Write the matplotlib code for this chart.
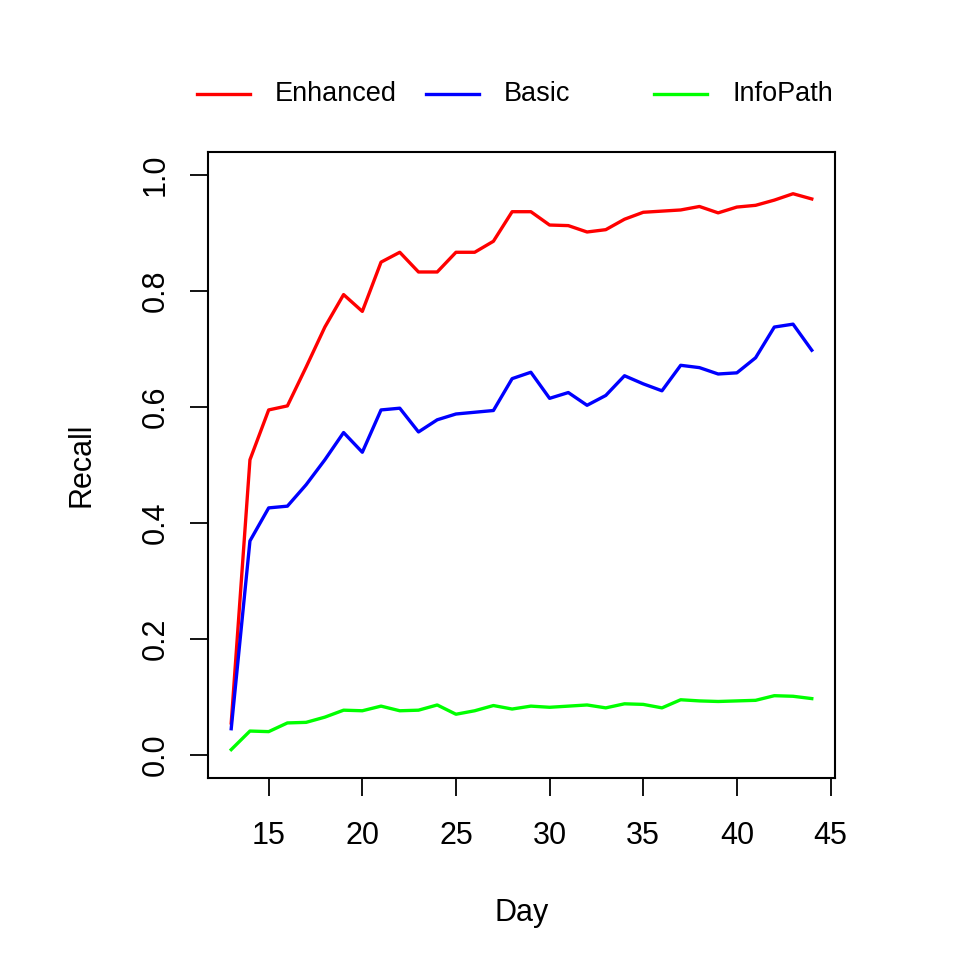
import matplotlib
matplotlib.use("Agg")
import matplotlib.pyplot as plt
from matplotlib.lines import Line2D

plt.rcParams['font.family'] = ['Liberation Sans', 'DejaVu Sans']

days = list(range(13, 45))

enhanced = [0.055, 0.509, 0.595, 0.602, 0.669, 0.738, 0.794, 0.765, 0.850, 0.867,
            0.833, 0.833, 0.867, 0.867, 0.886, 0.937, 0.937, 0.914, 0.913, 0.902,
            0.906, 0.924, 0.936, 0.938, 0.940, 0.946, 0.935, 0.945, 0.948, 0.957,
            0.968, 0.959]

basic = [0.045, 0.369, 0.426, 0.429, 0.466, 0.509, 0.556, 0.522, 0.595, 0.598,
         0.557, 0.578, 0.588, 0.591, 0.594, 0.649, 0.660, 0.615, 0.625, 0.603,
         0.620, 0.654, 0.640, 0.628, 0.672, 0.668, 0.657, 0.659, 0.685, 0.738,
         0.743, 0.698]

infopath = [0.009, 0.041, 0.040, 0.055, 0.056, 0.065, 0.077, 0.076, 0.084, 0.076,
            0.077, 0.086, 0.070, 0.076, 0.085, 0.079, 0.084, 0.082, 0.084, 0.086,
            0.081, 0.088, 0.087, 0.081, 0.095, 0.093, 0.092, 0.093, 0.094, 0.102,
            0.101, 0.097]

series = [("Enhanced", enhanced, "#ff0000"),
          ("Basic", basic, "#0000ff"),
          ("InfoPath", infopath, "#00ff00")]

W = H = 969
fig = plt.figure(figsize=(9.69, 9.69), dpi=100)
# axes box in pixels: left 208, right 835, top 152, bottom 778
ax = fig.add_axes([208 / W, 1 - 778 / H, (835 - 208) / W, (778 - 152) / H])

for name, vals, col in series:
    ax.plot(days, vals, color=col, lw=2.4)

# R-style 4% padding, y range fixed to 0..1
ax.set_xlim(13 - 0.04 * 31, 44 + 0.04 * 31)
ax.set_ylim(-0.04, 1.04)

ax.set_xticks([15, 20, 25, 30, 35, 40, 45])
ax.set_yticks([0.0, 0.2, 0.4, 0.6, 0.8, 1.0])
ax.set_yticklabels(["0.0", "0.2", "0.4", "0.6", "0.8", "1.0"], rotation=90, va="center")
ax.tick_params(axis="both", direction="out", length=13, width=1.3, labelsize=22)
ax.tick_params(axis="x", pad=18)
ax.tick_params(axis="y", pad=14)
for sp in ax.spines.values():
    sp.set_linewidth(1.5)

ax.set_xlabel("Day", fontsize=22, labelpad=34)
ax.set_ylabel("Recall", fontsize=22, labelpad=32)

# legend across the top, evenly spaced columns
leg_y = 1 - 94 / H
for i, (name, vals, col) in enumerate(series):
    x0 = (197 + i * 228.5) / W
    fig.add_artist(Line2D([x0, x0 + 53 / W], [leg_y, leg_y], color=col, lw=2.4))
    fig.text(x0 + 78 / W, leg_y, name, fontsize=19.5, va="center", ha="left")

fig.savefig("out.png", dpi=100)
